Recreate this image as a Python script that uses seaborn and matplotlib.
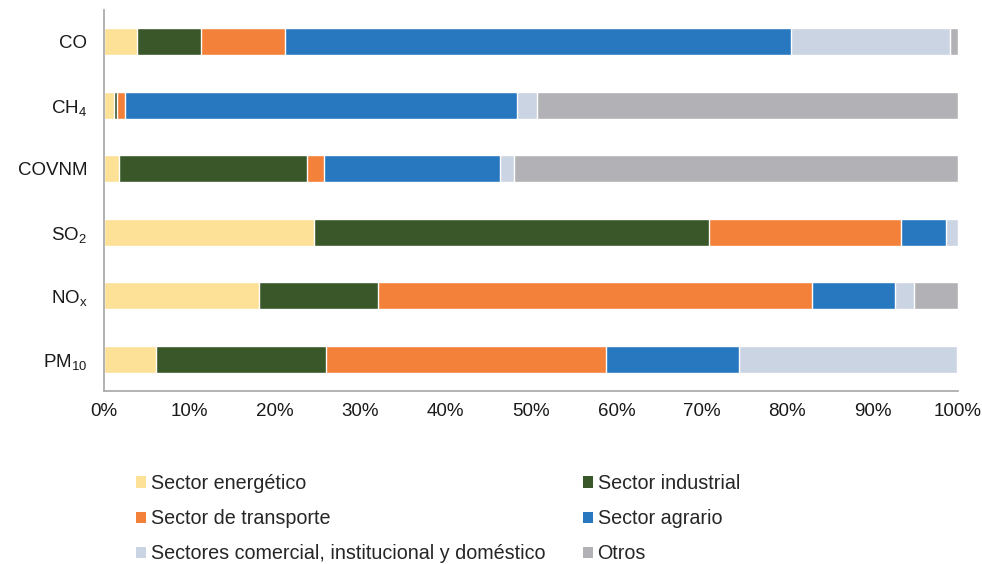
import numpy as np
import pandas as pd
import matplotlib
matplotlib.use("Agg")
import matplotlib.pyplot as plt
from matplotlib.patches import Patch
import seaborn as sns

# Datos (% de emisiones por sector)
contaminantes = ["CO", "CH$_4$", "COVNM", "SO$_2$", "NO$_x$", "PM$_{10}$"]
sectores = [
    "Sector energético",
    "Sector industrial",
    "Sector de transporte",
    "Sector agrario",
    "Sectores comercial, institucional y doméstico",
    "Otros",
]
energetico = [3.9, 1.2, 1.8, 24.6, 18.1, 6.1]
industrial = [7.5, 0.35, 22.0, 46.3, 14.0, 19.9]
transporte = [9.8, 0.9, 2.0, 22.4, 50.8, 32.8]
agrario = [59.3, 45.9, 20.6, 5.3, 9.7, 15.6]
comercial = [18.6, 2.3, 1.6, 1.4, 2.2, 25.5]
otros = [0.9, 49.35, 52.0, 0.0, 5.2, 0.1]

colores = ["#FCE197", "#3A572A", "#F4813A", "#2878C0", "#CBD4E2", "#B2B2B6"]

sns.set_style("white")
plt.rcParams["font.family"] = ["Liberation Sans", "DejaVu Sans"]
plt.rcParams["mathtext.fontset"] = "custom"
plt.rcParams["mathtext.rm"] = "Liberation Sans"
plt.rcParams["mathtext.it"] = "Liberation Sans:italic"
plt.rcParams["mathtext.default"] = "regular"

df = pd.DataFrame(
    np.array([energetico, industrial, transporte, agrario, comercial, otros]).T,
    columns=sectores,
)
df = df.div(df.sum(axis=1), axis=0) * 100
acum = df.cumsum(axis=1)
acum["contaminante"] = contaminantes

fig = plt.figure(figsize=(9.82, 5.64), dpi=100)
ax = fig.add_axes([104 / 982, 1 - 391 / 564, 854 / 982, 381 / 564])

# barras apiladas: se dibujan los acumulados del mayor al menor
for sector, color in reversed(list(zip(sectores, colores))):
    sns.barplot(data=acum, x=sector, y="contaminante", orient="h",
                color=color, width=0.43, saturation=1, ax=ax)

ax.set_xlim(0, 100)
ax.set_xticks(np.arange(0, 101, 10))
ax.set_xticklabels([f"{v}%" for v in range(0, 101, 10)])
ax.set_xlabel("")
ax.set_ylabel("")
ax.tick_params(axis="both", length=0, labelsize=13.5, colors="#1a1a1a")
ax.tick_params(axis="x", pad=9)
ax.tick_params(axis="y", pad=12)
for lado in ["top", "right"]:
    ax.spines[lado].set_visible(False)
for lado in ["left", "bottom"]:
    ax.spines[lado].set_color("#A6A6A6")
    ax.spines[lado].set_linewidth(1.2)

# leyenda en 2 columnas, orden por filas
orden = [0, 2, 4, 1, 3, 5]
handles = [Patch(facecolor=colores[i], edgecolor="none") for i in orden]
labels = [sectores[i] for i in orden]
fig.legend(handles, labels, ncol=2, loc="upper left",
           bbox_to_anchor=(136 / 982, 1 - 474 / 564), frameon=False,
           fontsize=14.2, handlelength=0.5, handleheight=0.5,
           handletextpad=0.25, labelspacing=0.82, columnspacing=1.9,
           borderaxespad=0, borderpad=0)

fig.savefig("out.png", dpi=100)
